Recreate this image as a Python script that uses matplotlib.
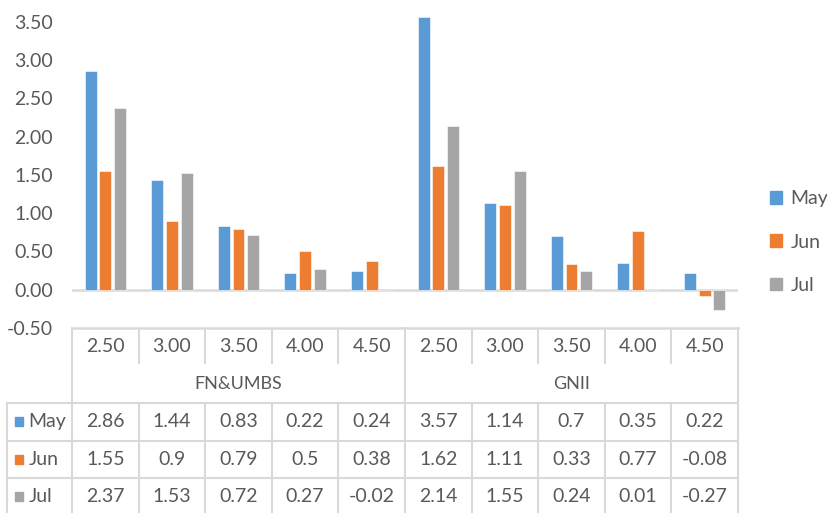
import numpy as np
import matplotlib
matplotlib.use('Agg')
from matplotlib import pyplot as plt
from matplotlib.patches import Patch, Rectangle

plt.rcParams['font.family'] = ['Lato', 'DejaVu Sans']

coupons = ['2.50', '3.00', '3.50', '4.00', '4.50']
groups = ['FN&UMBS', 'GNII']
months = ['May', 'Jun', 'Jul']

may = [2.86, 1.44, 0.83, 0.22, 0.24, 3.57, 1.14, 0.7, 0.35, 0.22]
jun = [1.55, 0.9, 0.79, 0.5, 0.38, 1.62, 1.11, 0.33, 0.77, -0.08]
jul = [2.37, 1.53, 0.72, 0.27, -0.02, 2.14, 1.55, 0.24, 0.01, -0.27]

colors = ['#5B9BD5', '#ED7D31', '#A5A5A5']
txt = '#595959'
grid = '#D9D9D9'
fs = 14

W, H = 828, 513
fig = plt.figure(figsize=(W / 100, H / 100), dpi=100)

# chart area
x0, x1 = 72, 738
plot_bottom = 328
ax = fig.add_axes([x0 / W, (H - plot_bottom) / H, (x1 - x0) / W, plot_bottom / H])
n = len(may)
x = np.arange(n)
series = [may, jun, jul]
offsets = [-0.22, 0, 0.22]
for vals, off, c in zip(series, offsets, colors):
    ax.bar(x + off, vals, width=0.18, color=c, edgecolor='white', linewidth=0.4, zorder=3)

ax.set_xlim(-0.5, n - 0.5)
ax.set_ylim(-0.5, 3.787)
ax.set_yticks(np.arange(-0.5, 3.51, 0.5))
ax.set_yticklabels([f'{v:.2f}' for v in np.arange(-0.5, 3.51, 0.5)])
ax.tick_params(axis='y', length=0, pad=13.5, labelsize=fs, labelcolor=txt)
ax.set_xticks([])
for s in ax.spines.values():
    s.set_visible(False)
ax.axhline(0, color=grid, lw=1.8, zorder=2)
ax.axhline(-0.5, color=grid, lw=1.8, zorder=2, clip_on=False)
ax.patch.set_alpha(0)

# data table below
rows = 4.93
tab = fig.add_axes([x0 / W, 0, (x1 - x0) / W, (H - plot_bottom) / H])
tab.set_xlim(-0.5, n - 0.5)
tab.set_ylim(rows, 0)
tab.axis('off')
lk = dict(color=grid, lw=1.5, clip_on=False)

# header rows
for i in range(n + 1):
    xe = i - 0.5
    if i in (0, n // 2, n):
        tab.plot([xe, xe], [0, rows], **lk)
    else:
        tab.plot([xe, xe], [0.05, 0.93], **lk)
        tab.plot([xe, xe], [2, rows], **lk)
for i in range(n):
    tab.text(i, 0.5, coupons[i % len(coupons)], ha='center', va='center', fontsize=fs, color=txt)
for g, name in enumerate(groups):
    tab.text(g * 5 + 2, 1.5, name, ha='center', va='center', fontsize=fs - 1, color=txt)

# value rows with legend keys
left = -1.47
tab.plot([left, left], [2, rows], **lk)
for r in range(2, 5):
    tab.plot([left, n - 0.5], [r, r], **lk)
for r, (vals, c, m) in enumerate(zip(series, colors, months)):
    yc = r + 2.5
    tab.add_patch(Rectangle((left + 0.11, yc - 0.12), 0.13, 0.24, color=c, clip_on=False))
    tab.text(left + 0.32, yc, m, ha='left', va='center', fontsize=fs, color=txt, clip_on=False)
    for i, v in enumerate(vals):
        tab.text(i, yc, f'{v:g}', ha='center', va='center', fontsize=fs, color=txt)

handles = [Patch(color=c, label=m) for c, m in zip(colors, months)]
fig.legend(handles=handles, loc='center left', bbox_to_anchor=(770 / W, 1 - 242 / H),
           frameon=False, fontsize=fs, labelcolor=txt, handlelength=0.6, handleheight=0.6,
           handletextpad=0.45, labelspacing=1.35, borderpad=0, borderaxespad=0)

fig.savefig('out.png', dpi=100)
